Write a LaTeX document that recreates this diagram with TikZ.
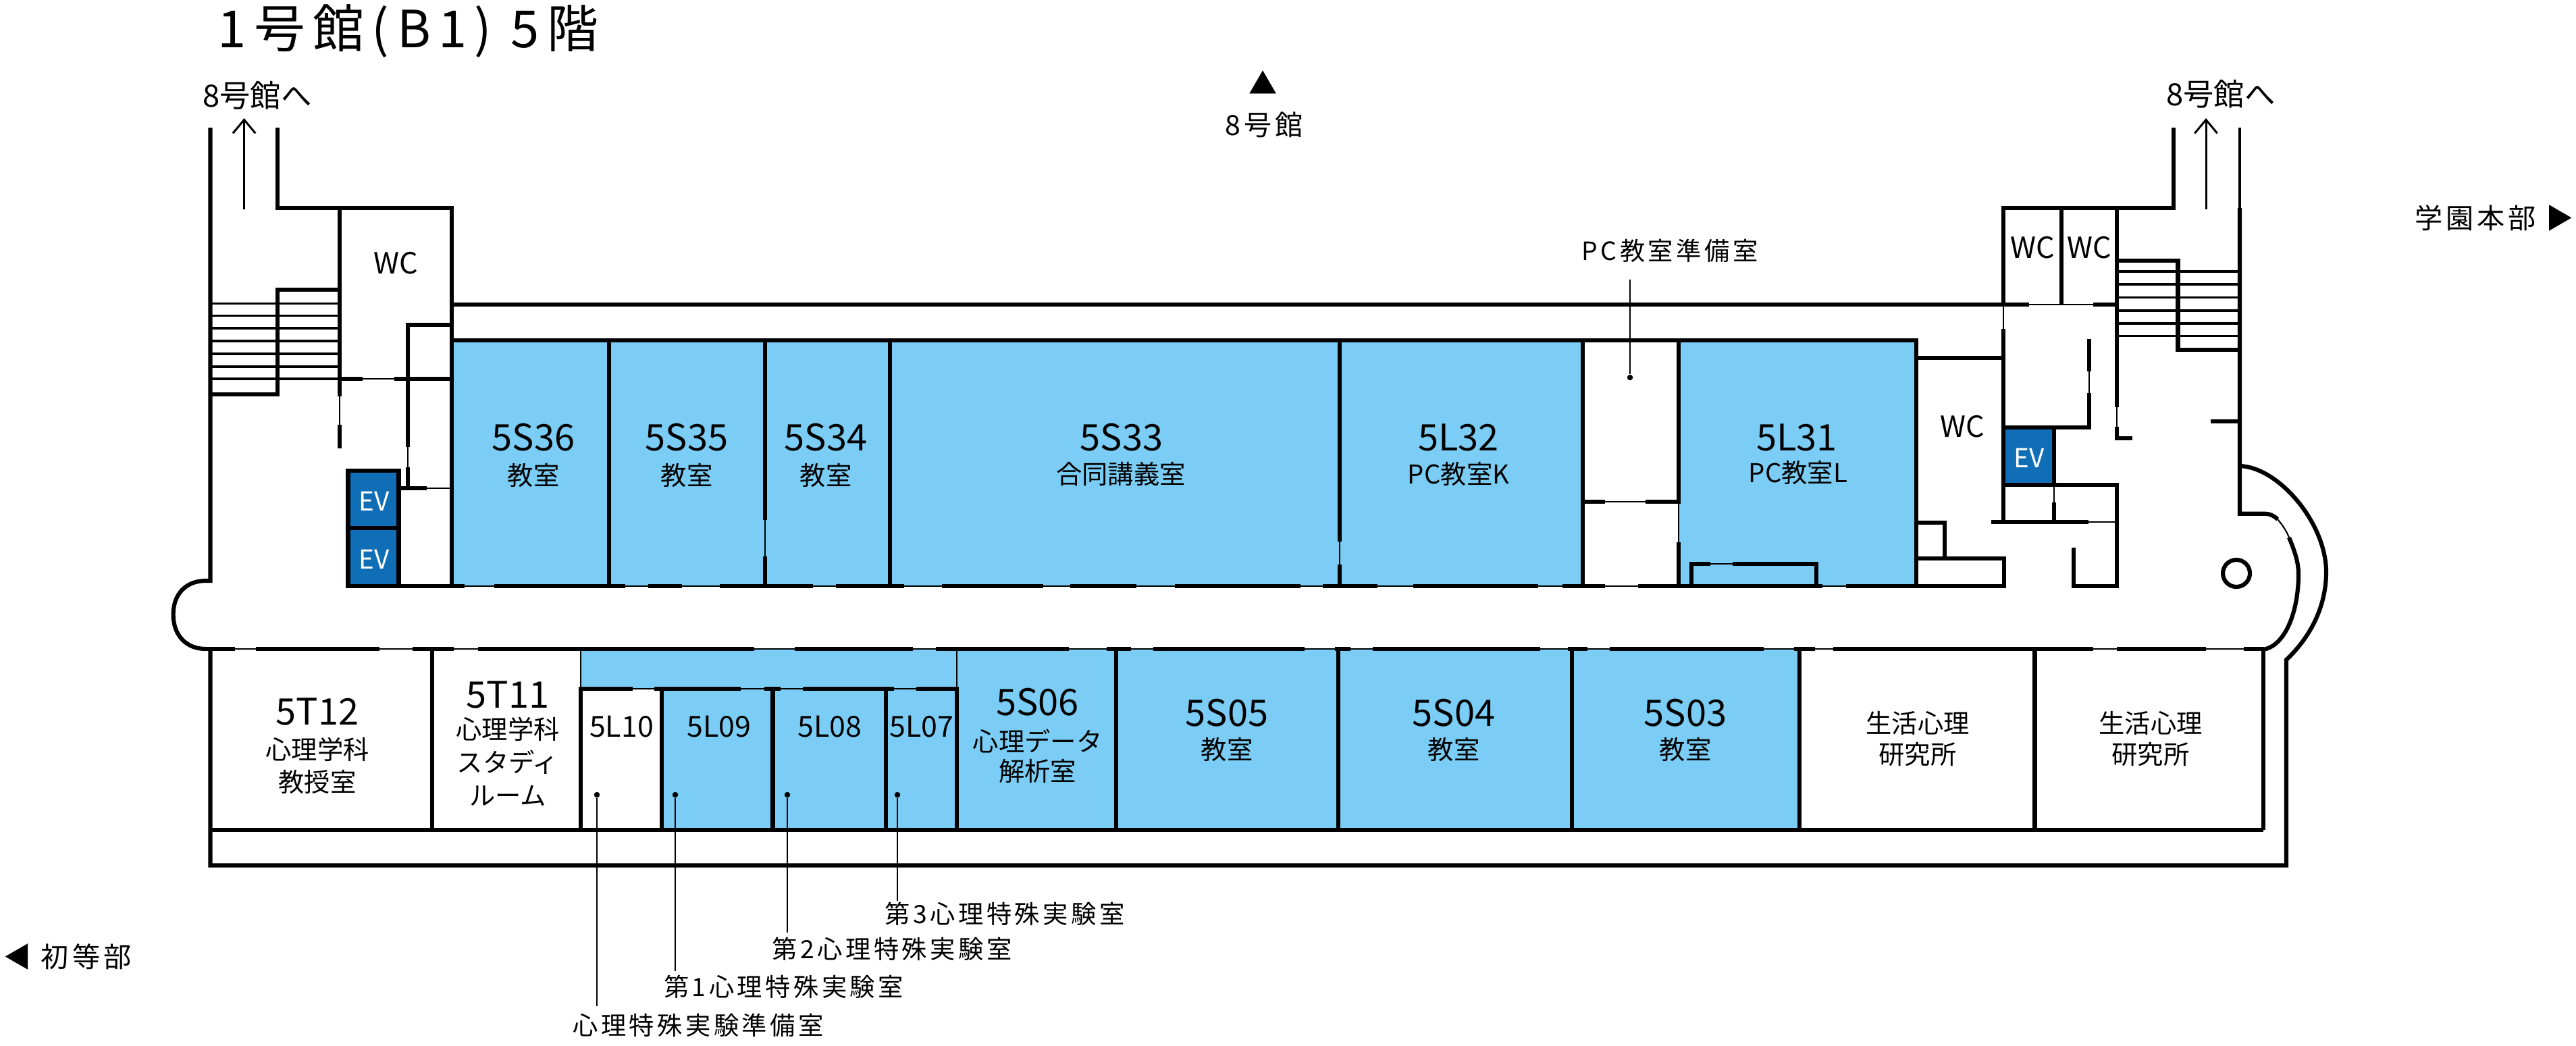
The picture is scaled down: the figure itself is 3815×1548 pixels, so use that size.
\documentclass[tikz,border=0pt]{standalone}
\usepackage{fontspec}
\setmainfont{Noto Sans CJK JP}
\newfontfamily\widefont[LetterSpace=12]{Noto Sans CJK JP}
\newfontfamily\titlefont[LetterSpace=15]{Noto Sans CJK JP}
\usetikzlibrary{arrows.meta}
\definecolor{roomblue}{RGB}{123,205,245}
\definecolor{evblue}{RGB}{16,110,183}
\tikzset{
  wall/.style={line width=1.75pt,black},
  door/.style={line width=0.6pt,black},
  tread/.style={line width=0.95pt,black},
  stairwall/.style={line width=1.1pt,black},
  leader/.style={line width=0.6pt,black},
  uparrow/.style={line width=0.85pt,-{Straight Barb[length=5.7pt,width=9.5pt]}},
  dotmark/.style={circle,fill=black,inner sep=0pt,minimum size=2.4pt},
  roomno/.style={inner sep=0pt,font=\fontsize{15.4pt}{18pt}\selectfont},
  smallno/.style={inner sep=0pt,font=\fontsize{12.2pt}{15pt}\selectfont},
  roomsub/.style={inner sep=0pt,font=\fontsize{10.9pt}{13pt}\selectfont},
  wclabel/.style={inner sep=0pt,font=\fontsize{12.3pt}{14pt}\selectfont},
  evlabel/.style={inner sep=0pt,text=white,font=\fontsize{11pt}{13pt}\selectfont},
  callout/.style={inner sep=0pt,font=\widefont\fontsize{10.6pt}{13pt}\selectfont},
  dirlabel/.style={inner sep=0pt,font=\widefont\fontsize{11.7pt}{14pt}\selectfont},
  stairlabel/.style={inner sep=0pt,font=\fontsize{12.9pt}{15pt}\selectfont},
}
\begin{document}
\begin{tikzpicture}[x=0.01cm,y=-0.01cm]
\useasboundingbox (0,0) rectangle (3815,1548);

\fill[roomblue] (669,504) rectangle (2344,868);
\fill[roomblue] (2486,504) rectangle (2838,868);
\fill[roomblue] (860,961) rectangle (1417,1020);
\fill[roomblue] (980,1020) rectangle (1417,1229);
\fill[roomblue] (1417,961) rectangle (2665,1229);

\coordinate (a0) at (361.6,310);
\coordinate (a1) at (361.6,175);
\coordinate (a2) at (3267,310);
\coordinate (a3) at (3267,175);
  \draw[uparrow] (a0) -- (a1);
  \draw[uparrow] (a2) -- (a3);

% left stairs
\draw[tread] (311,449.3) -- (503,449.3);
\draw[tread] (311,467.3) -- (503,467.3);
\draw[tread] (311,486) -- (503,486);
\draw[tread] (311,505) -- (503,505);
\draw[tread] (311,524) -- (503,524);
\draw[tread] (311,543) -- (503,543);
\draw[tread] (311,561) -- (503,561);
\draw[wall] (311.5,189) -- (311.5,860) -- (305,860)
  .. controls (275,860) and (256.6,880) .. (256.6,910)
  .. controls (256.6,940) and (275,961) .. (305,961);
\draw[wall] (410.7,189) -- (410.7,308) -- (669,308) -- (669,868);
\draw[wall] (502.7,308) -- (502.7,587);
\draw[door] (502.7,587) -- (502.7,629);
\draw[wall] (502.7,629) -- (502.7,664);
\draw[wall] (502.7,429) -- (410.7,429) -- (410.7,584) -- (311.5,584);
\draw[door] (537,561) -- (584,561);
\draw[wall] (502.7,561) -- (537,561);
\draw[wall] (584,561) -- (669,561);
\draw[wall] (669,481) -- (604,481) -- (604,661.7);
\draw[door] (604,661.7) -- (604,691.7);
\draw[wall] (604,691.7) -- (604,722.7);
\draw[wall] (590,722.7) -- (632,722.7);
\draw[door] (632,722.7) -- (669,722.7);
\draw[wall,fill=evblue] (515.5,696.7) rectangle (590.5,781.7);
\draw[wall,fill=evblue] (515.5,781.7) rectangle (590.5,868);

% corridor
\draw[wall] (669,451) -- (3005,451);
\draw[door] (3005,451) -- (3100,451);
\draw[wall] (3100,451) -- (3135,451);
\draw[wall] (669,504) -- (2838,504) -- (2838,868);
\draw[door] (515,868) -- (2734,868);
\draw[wall] (515,868) -- (688,868) (732,868) -- (926,868) (960,868) -- (1010,868)
  (1066,868) -- (1204,868) (1238,868) -- (1339,868) (1395,868) -- (1545,868)
  (1585,868) -- (1683,868) (1740,868) -- (1926,868) (1959,868) -- (2040,868)
  (2093,868) -- (2278,868) (2314,868) -- (2377,868) (2426,868) -- (2699,868);
\draw[door] (305,961) -- (3353,961);
\draw[wall] (305,961) -- (348,961) (379,961) -- (562,961) (611,961) -- (672,961)
  (708,961) -- (1117,961) (1177,961) -- (1352,961) (1386,961) -- (1583,961)
  (1639,961) -- (1675,961) (1708,961) -- (1932,961) (1977,961) -- (2000,961)
  (2033,961) -- (2281,961) (2322,961) -- (2351,961) (2384,961) -- (2612,961)
  (2657,961) -- (2688,961) (2715,961) -- (3100,961) (3135,961) -- (3267,961)
  (3323,961) -- (3353,961);

% upper rooms
\draw[wall] (902,504) -- (902,868);
\draw[wall] (1133,504) -- (1133,770) (1133,824) -- (1133,868);
\draw[door] (1133,770) -- (1133,824);
\draw[wall] (1318,504) -- (1318,868);
\draw[wall] (1984,504) -- (1984,802) (1984,836) -- (1984,868);
\draw[door] (1984,802) -- (1984,836);
\draw[wall] (2344,504) -- (2344,868);
\draw[wall] (2486,504) -- (2486,746) (2486,803) -- (2486,868);
\draw[door] (2486,746) -- (2486,803);
\draw[wall] (2344,743) -- (2377,743) (2437,743) -- (2486,743);
\draw[door] (2377,743) -- (2437,743);
\draw[wall] (2505,869) -- (2505,834.6) -- (2532.6,834.6);
\draw[door] (2532.6,834.6) -- (2566,834.6);
\draw[wall] (2566,834.6) -- (2690,834.6) -- (2690,869);

% right block
\draw[wall] (2838,530) -- (2967,530);
\draw[wall] (3219,189) -- (3219,308) -- (2967,308) -- (2967,451);
\draw[door] (2967,451) -- (2967,487);
\draw[wall] (2967,487) -- (2967,773);
\draw[wall] (3053,308) -- (3053,451);
\draw[wall] (3135,308) -- (3135,603);
\draw[door] (3135,603) -- (3135,632);
\draw[wall] (3135,632) -- (3135,649) -- (3158,649);
\draw[tread] (3135,402) -- (3317,402);
\draw[tread] (3135,421) -- (3317,421);
\draw[tread] (3135,440.7) -- (3317,440.7);
\draw[tread] (3135,460) -- (3317,460);
\draw[tread] (3135,479) -- (3317,479);
\draw[tread] (3135,497.7) -- (3317,497.7);
\draw[wall] (3135,386) -- (3225.5,386) -- (3225.5,518) -- (3317,518);
\draw[stairwall] (3317,189) -- (3317,308);
\draw[wall] (3094,502) -- (3094,550);
\draw[door] (3094,550) -- (3094,582);
\draw[wall] (3094,582) -- (3094,632.7) -- (2967,632.7);
\draw[wall,fill=evblue] (2967,632.7) rectangle (3042,718);
\draw[wall] (3042,718) -- (3135,718) -- (3135,868) -- (3071,868) -- (3071,811);
\draw[door] (3042,718) -- (3042,744);
\draw[wall] (3042,744) -- (3042,773);
\draw[wall] (2948.5,773) -- (3093,773);
\draw[door] (3093,773) -- (3135,773);
\draw[wall] (3274,624) -- (3317,624);
\draw[wall] (2838,774) -- (2880,774) -- (2880,826.7);
\draw[wall] (2838,826.7) -- (2968,826.7) -- (2968,868) -- (2734,868);

% east end
\draw[wall] (3317,308) -- (3317,760.7) -- (3353,760.7)
  .. controls (3362,760.7) and (3368,764) .. (3373,769);
\draw[door] (3373,769) .. controls (3380,777) and (3386,786) .. (3390,796);
\draw[wall] (3390,796) .. controls (3400,820) and (3404,835) .. (3404,850)
  .. controls (3404,905) and (3385,955) .. (3353,961.7);
\draw[wall] (3317,690) .. controls (3375,692) and (3445,775) .. (3445,847)
  .. controls (3445,900) and (3420,945) .. (3386,977)
  -- (3386,1281.5) -- (311.5,1281.5) -- (311.5,961);
\draw[wall] (3312,849) circle (20);

% lower rooms
\draw[wall] (311.5,1229) -- (3352,1229);
\draw[wall] (640,961) -- (640,1229);
\draw[door] (860,961) -- (860,1020);
\draw[door] (1417,961) -- (1417,1020);
\draw[wall] (860,1020) -- (860,1229);
\draw[wall] (980,1020) -- (980,1229);
\draw[wall] (1144.5,1020) -- (1144.5,1229);
\draw[wall] (1312,1020) -- (1312,1229);
\draw[wall] (1417,1020) -- (1417,1229);
\draw[wall] (1653,961) -- (1653,1229);
\draw[wall] (1982,961) -- (1982,1229);
\draw[wall] (2328,961) -- (2328,1229);
\draw[wall] (2665,961) -- (2665,1229);
\draw[wall] (3013.5,961) -- (3013.5,1229);
\draw[wall] (3352,961) -- (3352,1229);
\draw[door] (860,1020) -- (1417,1020);
\draw[wall] (857,1020) -- (937,1020) (969,1020) -- (1097,1020) (1132,1020) -- (1156,1020)
  (1189,1020) -- (1323.5,1020) (1357,1020) -- (1420,1020);

% titles and directions
\node[anchor=west,inner sep=0pt,font=\titlefont\fontsize{21.6pt}{26pt}\selectfont] (title) at (322,46) {1号館(B1) 5階};
\node[stairlabel] (to8a) at (381,141) {8号館へ};
\node[stairlabel] (to8b) at (3289,139) {8号館へ};
\node[inner sep=0pt,font=\fontsize{12pt}{14pt}\selectfont] (up8) at (1871,122) {▲};
\node[dirlabel] (b8) at (1872,185) {8号館};
\node[dirlabel,anchor=east] (hq) at (3812,323) {学園本部 ▶};
\node[dirlabel,anchor=west] (el) at (5,1417) {◀ 初等部};

% upper labels
\node[wclabel] (wc1) at (586,390) {WC};
\node[wclabel] (wc2) at (3010,367) {WC};
\node[wclabel] (wc3) at (3094,367) {WC};
\node[wclabel] (wc4) at (2906,632) {WC};
\node[evlabel] (ev1) at (554,742) {EV};
\node[evlabel] (ev2) at (554,828) {EV};
\node[evlabel] (ev3) at (3005,678) {EV};
\node[roomno] (r36) at (790,648) {5S36};
\node[roomsub] (r36s) at (790,704) {教室};
\node[roomno] (r35) at (1017,648) {5S35};
\node[roomsub] (r35s) at (1017,704) {教室};
\node[roomno] (r34) at (1223,648) {5S34};
\node[roomsub] (r34s) at (1223,704) {教室};
\node[roomno] (r33) at (1661,648) {5S33};
\node[roomsub] (r33s) at (1660,702) {合同講義室};
\node[roomno] (r32) at (2160,648) {5L32};
\node[roomsub] (r32s) at (2160,702) {PC教室K};
\node[roomno] (r31) at (2661,648) {5L31};
\node[roomsub] (r31s) at (2663,700) {PC教室L};

% lower labels
\node[roomno] (r12) at (470,1054) {5T12};
\node[roomsub] (r12s) at (470,1110) {心理学科};
\node[roomsub] (r12t) at (470,1158) {教授室};
\node[roomno] (r11) at (752,1029) {5T11};
\node[roomsub] (r11s) at (752,1080) {心理学科};
\node[roomsub] (r11t) at (752,1129) {スタディ};
\node[roomsub] (r11u) at (752,1178) {ルーム};
\node[smallno] (r10) at (920.5,1076) {5L10};
\node[smallno] (r09) at (1065,1076) {5L09};
\node[smallno] (r08) at (1229,1076) {5L08};
\node[smallno] (r07) at (1365,1076) {5L07};
\node[roomno] (r06) at (1536.5,1040) {5S06};
\node[roomsub] (r06s) at (1536.5,1097) {心理データ};
\node[roomsub] (r06t) at (1536.5,1142) {解析室};
\node[roomno] (r05) at (1817,1056) {5S05};
\node[roomsub] (r05s) at (1817,1110) {教室};
\node[roomno] (r04) at (2153,1056) {5S04};
\node[roomsub] (r04s) at (2153,1110) {教室};
\node[roomno] (r03) at (2496,1056) {5S03};
\node[roomsub] (r03s) at (2496,1110) {教室};
\node[roomsub] (r02s) at (2840,1071) {生活心理};
\node[roomsub] (r02t) at (2840,1117) {研究所};
\node[roomsub] (r01s) at (3185,1071) {生活心理};
\node[roomsub] (r01t) at (3185,1117) {研究所};

% callouts
\node[callout] (pcprep) at (2473,371) {PC教室準備室};
\node[callout] (lab3) at (1488,1353.5) {第3心理特殊実験室};
\node[callout] (lab2) at (1321,1405) {第2心理特殊実験室};
\node[callout] (lab1) at (1160.5,1461) {第1心理特殊実験室};
\node[callout] (labprep) at (1034,1518) {心理特殊実験準備室};
\node[dotmark] (d0) at (2414,559) {};
\node[dotmark] (d3) at (1329,1177) {};
\node[dotmark] (d2) at (1166,1177) {};
\node[dotmark] (d1) at (1000,1177) {};
\node[dotmark] (d9) at (884,1177) {};
\coordinate (e0) at (2414,414);
\coordinate (e3) at (1329,1334);
\coordinate (e2) at (1166,1380.5);
\coordinate (e1) at (1000,1437.5);
\coordinate (e9) at (884,1490);
  \draw[leader] (d0) -- (e0);
  \draw[leader] (d3) -- (e3);
  \draw[leader] (d2) -- (e2);
  \draw[leader] (d1) -- (e1);
  \draw[leader] (d9) -- (e9);
\end{tikzpicture}
\end{document}
